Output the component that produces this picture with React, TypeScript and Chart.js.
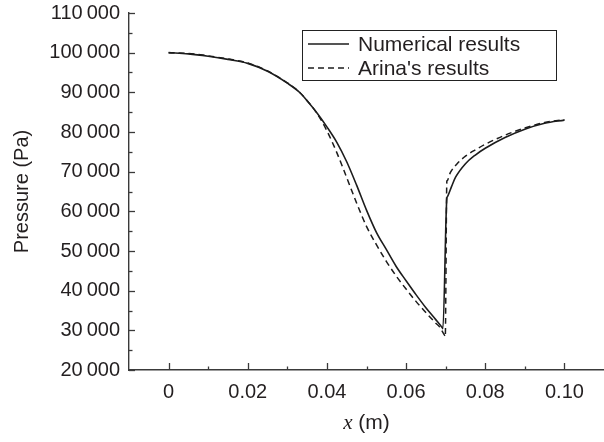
import React, { useEffect, useRef } from "react";
import { Chart, registerables } from "chart.js";

Chart.register(...registerables);

// ---- data ----
const seriesNames = ["Numerical results", "Arina's results"];

const numericalX = [
  0, 0.005, 0.01, 0.015, 0.02, 0.025, 0.03, 0.0332, 0.035, 0.0375, 0.04, 0.0425, 0.045,
  0.0475, 0.05, 0.0525, 0.055, 0.0575, 0.06, 0.0625, 0.065, 0.0675, 0.0692, 0.0693,
  0.0703, 0.07035, 0.0715, 0.0725, 0.075, 0.0775, 0.08, 0.085, 0.09, 0.095, 0.1,
];
const numericalP = [
  100000, 99700, 99100, 98300, 97300, 95300, 92300, 89900, 87900, 84800, 81300, 77400, 72500,
  66600, 60300, 54700, 50400, 46100, 42500, 39000, 35700, 32700, 30550, 30400,
  63400, 63550, 66300, 68600, 72000, 74200, 75900, 78600, 80700, 82200, 83000,
];

const arinaX = [
  0, 0.005, 0.01, 0.015, 0.02, 0.025, 0.03, 0.0332, 0.035, 0.0375, 0.04, 0.0425, 0.045,
  0.0475, 0.05, 0.0525, 0.055, 0.0575, 0.06, 0.0625, 0.065, 0.0675, 0.0685, 0.0698, 0.0699,
  0.0703, 0.07035, 0.0712, 0.0729, 0.075, 0.0775, 0.08, 0.085, 0.09, 0.095, 0.1,
];
const arinaP = [
  100000, 99800, 99200, 98400, 97400, 95400, 92400, 89900, 87900, 84700, 80300, 74800, 68500,
  62100, 56200, 51600, 47400, 43700, 40400, 37300, 34500, 31800, 30800, 28600, 28400,
  67600, 67700, 69800, 72000, 73900, 75500, 76900, 79200, 81000, 82400, 83100,
];

const xTickValues = [0, 0.02, 0.04, 0.06, 0.08, 0.1];
const xTickLabels = ["0", "0.02", "0.04", "0.06", "0.08", "0.10"];
const xMinorValues = [0.01, 0.03, 0.05, 0.07, 0.09];
const yTickValues = [20000, 30000, 40000, 50000, 60000, 70000, 80000, 90000, 100000, 110000];
const yTickLabels = [
  "20\u2009000", "30\u2009000", "40\u2009000", "50\u2009000", "60\u2009000",
  "70\u2009000", "80\u2009000", "90\u2009000", "100\u2009000", "110\u2009000",
];
const yMinorValues = [25000, 35000, 45000, 55000, 65000, 75000, 85000, 95000, 105000];

const yTitle = "Pressure (Pa)";
const xTitleVar = "x";
const xTitleUnit = " (m)";

const TEXT = "#231f20";
const AXIS = "#3a3a3a";
const LINE = "#1c1c1c";
const SANS = "'Liberation Sans', Arial, Helvetica, sans-serif";
const SERIF = "'Liberation Serif', 'Times New Roman', serif";
const FS = 20;
const LFS = 21;

const decorPlugin = {
  id: "decor",
  afterDraw(chart: any) {
    const { ctx, chartArea, scales } = chart;
    const xs = scales.x;
    const ys = scales.y;
    ctx.save();
    ctx.strokeStyle = AXIS;
    ctx.lineWidth = 1.3;
    const tick = (x1: number, y1: number, x2: number, y2: number) => {
      ctx.beginPath();
      ctx.moveTo(x1, y1);
      ctx.lineTo(x2, y2);
      ctx.stroke();
    };
    yTickValues.forEach((v) => {
      const y = Math.round(ys.getPixelForValue(v)) + 0.5;
      tick(chartArea.left, y, chartArea.left + 6, y);
    });
    yMinorValues.forEach((v) => {
      const y = Math.round(ys.getPixelForValue(v)) + 0.5;
      tick(chartArea.left, y, chartArea.left + 3.5, y);
    });
    xTickValues.forEach((v) => {
      const x = Math.round(xs.getPixelForValue(v)) + 0.5;
      tick(x, chartArea.bottom, x, chartArea.bottom - 7);
    });
    xMinorValues.forEach((v) => {
      const x = Math.round(xs.getPixelForValue(v)) + 0.5;
      tick(x, chartArea.bottom, x, chartArea.bottom - 3.5);
    });

    // x axis title: italic serif variable + sans unit
    ctx.fillStyle = TEXT;
    ctx.textBaseline = "middle";
    ctx.textAlign = "left";
    ctx.font = `italic ${LFS}px ${SERIF}`;
    const wVar = ctx.measureText(xTitleVar).width;
    ctx.font = `${LFS}px ${SANS}`;
    const wUnit = ctx.measureText(xTitleUnit).width;
    const cx = xs.getPixelForValue(0.05);
    const startX = cx - (wVar + wUnit) / 2;
    const ty = 423;
    ctx.font = `italic ${LFS}px ${SERIF}`;
    ctx.fillText(xTitleVar, startX, ty);
    ctx.font = `${LFS}px ${SANS}`;
    ctx.fillText(xTitleUnit, startX + wVar, ty);

    // legend box
    const bx = 302.5, by = 30.5, bw = 254, bh = 50;
    ctx.strokeStyle = "#222";
    ctx.lineWidth = 1;
    ctx.strokeRect(bx, by, bw, bh);
    const rows = [44, 68];
    chart.data.datasets.forEach((ds: any, i: number) => {
      ctx.strokeStyle = ds.borderColor;
      ctx.lineWidth = ds.borderWidth;
      ctx.setLineDash(ds.borderDash || []);
      ctx.beginPath();
      ctx.moveTo(308, rows[i]);
      ctx.lineTo(349, rows[i]);
      ctx.stroke();
      ctx.setLineDash([]);
      ctx.fillStyle = TEXT;
      ctx.font = `${LFS}px ${SANS}`;
      ctx.textBaseline = "middle";
      ctx.fillText(ds.label, 358, rows[i] + 1);
    });
    ctx.restore();
  },
};

export default function App() {
  const ref = useRef<HTMLCanvasElement | null>(null);
  useEffect(() => {
    if (!ref.current) return;
    const chart = new Chart(ref.current, {
      type: "line",
      data: {
        datasets: [
          {
            label: seriesNames[0],
            data: numericalX.map((x, i) => ({ x, y: numericalP[i] })),
            borderColor: LINE,
            borderWidth: 1.6,
            pointRadius: 0,
            cubicInterpolationMode: "monotone",
            fill: false,
          },
          {
            label: seriesNames[1],
            data: arinaX.map((x, i) => ({ x, y: arinaP[i] })),
            borderColor: LINE,
            borderWidth: 1.5,
            borderDash: [6, 4],
            pointRadius: 0,
            cubicInterpolationMode: "monotone",
            fill: false,
          },
        ],
      },
      options: {
        animation: false,
        responsive: false,
        layout: { padding: { top: 13, right: 0, left: 0, bottom: 0 } },
        plugins: { legend: { display: false }, tooltip: { enabled: false } },
        scales: {
          x: {
            type: "linear",
            min: -0.01,
            max: 0.11,
            afterBuildTicks: (s: any) => {
              s.ticks = xTickValues.map((v) => ({ value: v }));
            },
            afterFit: (s: any) => {
              s.height = 72;
              s.paddingLeft = 0;
              s.paddingRight = 0;
            },
            ticks: {
              autoSkip: false,
              maxRotation: 0,
              padding: 10,
              color: TEXT,
              font: { family: SANS, size: FS },
              callback: (v: any) => {
                const i = xTickValues.findIndex((t) => Math.abs(t - v) < 1e-9);
                return i >= 0 ? xTickLabels[i] : "";
              },
            },
            grid: { display: true, drawOnChartArea: false, drawTicks: false },
            border: { display: true, color: AXIS, width: 1.4 },
          },
          y: {
            type: "linear",
            min: 20000,
            max: 110000,
            afterBuildTicks: (s: any) => {
              s.ticks = yTickValues.map((v) => ({ value: v }));
            },
            afterFit: (s: any) => {
              s.width = 129;
              s.paddingTop = 0;
              s.paddingBottom = 0;
            },
            ticks: {
              autoSkip: false,
              padding: 9,
              color: TEXT,
              font: { family: SANS, size: FS },
              callback: (v: any) => {
                const i = yTickValues.indexOf(v);
                return i >= 0 ? yTickLabels[i] : "";
              },
            },
            title: {
              display: true,
              text: yTitle,
              color: TEXT,
              font: { family: SANS, size: FS },
              padding: { top: 10, bottom: 0 },
            },
            grid: { display: true, drawOnChartArea: false, drawTicks: false },
            border: { display: true, color: AXIS, width: 1.4 },
          },
        },
      } as any,
      plugins: [decorPlugin],
    });
    return () => chart.destroy();
  }, []);
  return (
    <div style={{ position: "fixed", left: 0, top: 0, width: 604, height: 442, background: "#fff" }}>
      <canvas ref={ref} width={604} height={442} style={{ display: "block" }} />
    </div>
  );
}
